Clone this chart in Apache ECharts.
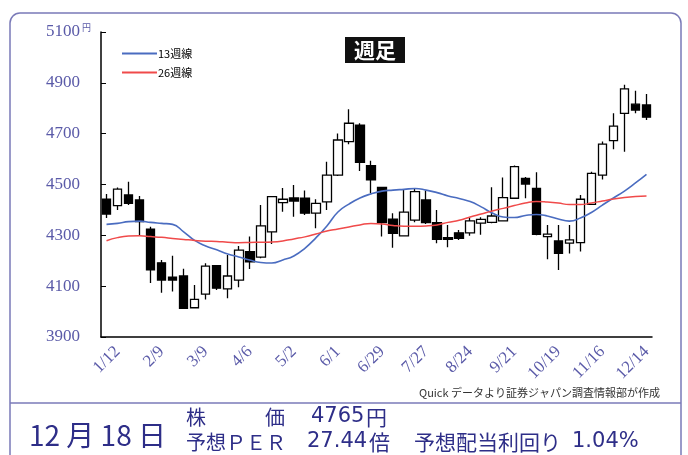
<!DOCTYPE html>
<html><head><meta charset="utf-8">
<script src="https://cdn.jsdelivr.net/npm/echarts@6/dist/echarts.min.js"></script>
<style>html,body{margin:0;padding:0;background:#fff}#c{width:688px;height:455px}</style>
</head><body><div id="c"></div>
<script>
const weeks = ['1/5','1/12','1/19','1/26','2/2','2/9','2/16','2/23','3/2','3/9','3/16','3/23','3/30','4/6','4/13','4/20','4/27','5/2','5/11','5/18','5/25','6/1','6/8','6/15','6/22','6/29','7/6','7/13','7/20','7/27','8/3','8/10','8/17','8/24','8/31','9/7','9/14','9/21','9/28','10/5','10/12','10/19','10/26','11/2','11/9','11/16','11/23','11/30','12/7','12/14'];
const opens  = [4442,4417,4459,4439,4324,4192,4135,4140,4015,4069,4181,4089,4124,4236,4214,4314,4429,4447,4446,4387,4432,4537,4669,4734,4574,4489,4364,4298,4360,4439,4350,4291,4310,4310,4348,4351,4357,4446,4524,4485,4295,4278,4269,4271,4422,4537,4673,4780,4816,4813];
const closes = [4384,4482,4426,4354,4164,4124,4124,4013,4048,4179,4092,4140,4242,4196,4337,4452,4442,4435,4387,4426,4537,4675,4741,4587,4518,4350,4308,4391,4472,4350,4284,4284,4288,4357,4363,4376,4448,4570,4502,4304,4305,4229,4282,4442,4544,4659,4730,4876,4793,4765];
const lows   = [4368,4400,4419,4301,4112,4074,4079,4010,4013,4048,4085,4052,4096,4168,4210,4266,4393,4373,4380,4328,4400,4533,4658,4553,4465,4295,4251,4296,4351,4345,4269,4253,4282,4298,4302,4348,4355,4444,4446,4300,4206,4164,4229,4236,4420,4520,4639,4629,4780,4754];
const highs  = [4463,4488,4511,4455,4334,4203,4220,4169,4105,4190,4183,4223,4258,4295,4419,4455,4486,4498,4476,4442,4590,4701,4796,4741,4593,4489,4387,4478,4485,4476,4400,4341,4321,4370,4371,4489,4528,4575,4530,4548,4341,4341,4341,4459,4550,4669,4780,4892,4869,4856];
const ma13 = [4343,4347,4354,4356,4351,4347,4343,4314,4280,4258,4243,4227,4215,4203,4193,4191,4203,4219,4249,4290,4337,4392,4423,4447,4463,4474,4478,4481,4484,4478,4468,4455,4445,4433,4412,4388,4372,4370,4378,4382,4376,4364,4356,4368,4390,4419,4447,4474,4506,4540];
const ma26 = [4279,4291,4297,4298,4295,4292,4288,4284,4280,4277,4276,4273,4271,4272,4273,4274,4278,4286,4294,4305,4317,4325,4333,4341,4347,4345,4339,4336,4336,4337,4341,4351,4359,4372,4384,4396,4406,4417,4427,4433,4431,4427,4421,4421,4427,4435,4443,4449,4453,4455];
const yTicks = [3900,4100,4300,4500,4700,4900,5100];
const seriesNames = ['13週線','26週線'];

const chart = echarts.init(document.getElementById('c'));
const candleData = weeks.map((w,i)=>[opens[i], closes[i], lows[i], highs[i]]);
const navy = '#2e2e88';
const axisBlue = '#5a5aa8';
const jp = '"Noto Sans CJK JP", sans-serif';
const num = '"DejaVu Sans", sans-serif';
chart.setOption({
  animation:false,
  backgroundColor:'#fff',
  title:{text:'週足', left:345, top:37, backgroundColor:'#111', padding:[1,9,1,9],
    textStyle:{color:'#fff', fontSize:21, fontWeight:'bold', fontFamily:jp, lineHeight:24}},
  legend:{data:seriesNames, orient:'vertical', left:117, top:43, icon:'rect', itemWidth:35, itemHeight:2, itemGap:8,
    textStyle:{fontSize:11, color:'#000', fontFamily:jp, padding:[0,0,0,-4]}},
  grid:{left:101, right:36, top:32, bottom:118},
  xAxis:{type:'category', data:weeks, boundaryGap:true,
    axisLine:{lineStyle:{color:'#000', width:1.5}},
    axisTick:{inside:true, length:4, interval:0, lineStyle:{color:'#000'}},
    axisLabel:{interval:(i)=>i%4===1, rotate:45, color:axisBlue, fontFamily:'"Liberation Serif", serif', fontSize:17, margin:12},
    splitLine:{show:false}},
  yAxis:{type:'value', min:3900, max:5100,
    axisLine:{show:true, lineStyle:{color:'#000', width:1.5}},
    axisTick:{show:true, inside:true, length:5, customValues:yTicks, lineStyle:{color:'#000'}},
    splitLine:{show:false},
    axisLabel:{customValues:yTicks, margin:8,
      formatter:(v)=> v===5100 ? '{n|5100}{u|円}' : '{n|'+v+'}{s|}',
      rich:{
        n:{fontFamily:'"Liberation Serif", serif', fontSize:17, color:axisBlue, lineHeight:18},
        u:{fontFamily:jp, fontSize:9, color:axisBlue, width:13, align:'center', verticalAlign:'top', lineHeight:10},
        s:{width:13}
      }}},
  series:[
    {type:'candlestick', name:'週足', data:candleData, barWidth:9,
      itemStyle:{color:'#fff', color0:'#000', borderColor:'#000', borderColor0:'#000', borderWidth:1.3}},
    {type:'line', name:seriesNames[0], data:ma13, smooth:true, symbol:'none',
      lineStyle:{color:'#4a6cc0', width:1.6}, itemStyle:{color:'#4a6cc0'}},
    {type:'line', name:seriesNames[1], data:ma26, smooth:true, symbol:'none',
      lineStyle:{color:'#f04a4a', width:1.5}, itemStyle:{color:'#f04a4a'}}
  ],
  graphic:[
    {type:'rect', shape:{x:10, y:13, width:671, height:480, r:[10,10,0,0]}, style:{fill:'none', stroke:'#7a7ab8', lineWidth:1.5}},
    {type:'line', shape:{x1:10, y1:403, x2:681, y2:403}, style:{stroke:'#7a7ab8', lineWidth:1.5}},
    {type:'text', x:660, y:393, style:{text:'Quick データより証券ジャパン調査情報部が作成', fill:'#333', font:'11px '+jp, textAlign:'right', textVerticalAlign:'middle'}},
    {type:'text', x:29, y:435, style:{text:'12 月 18 日', fill:navy, font:'28px '+jp, textVerticalAlign:'middle'}},
    {type:'text', x:186, y:417, style:{text:'株', fill:navy, font:'20px '+jp, textVerticalAlign:'middle'}},
    {type:'text', x:265, y:417, style:{text:'価', fill:navy, font:'20px '+jp, textVerticalAlign:'middle'}},
    {type:'text', x:311, y:417, style:{text:'4765', fill:navy, font:'21px '+num, textVerticalAlign:'middle'}},
    {type:'text', x:366, y:417, style:{text:'円', fill:navy, font:'21px '+jp, textVerticalAlign:'middle'}},
    {type:'text', x:186, y:442, style:{text:'予想ＰＥＲ', fill:navy, font:'20px '+jp, textVerticalAlign:'middle'}},
    {type:'text', x:307, y:442, style:{text:'27.44', fill:navy, font:'21px '+num, textVerticalAlign:'middle'}},
    {type:'text', x:369, y:442, style:{text:'倍', fill:navy, font:'21px '+jp, textVerticalAlign:'middle'}},
    {type:'text', x:414, y:442, style:{text:'予想配当利回り', fill:navy, font:'21px '+jp, textVerticalAlign:'middle'}},
    {type:'text', x:572, y:442, style:{text:'1.04%', fill:navy, font:'21px '+num, textVerticalAlign:'middle'}}
  ]
});
</script></body></html>
